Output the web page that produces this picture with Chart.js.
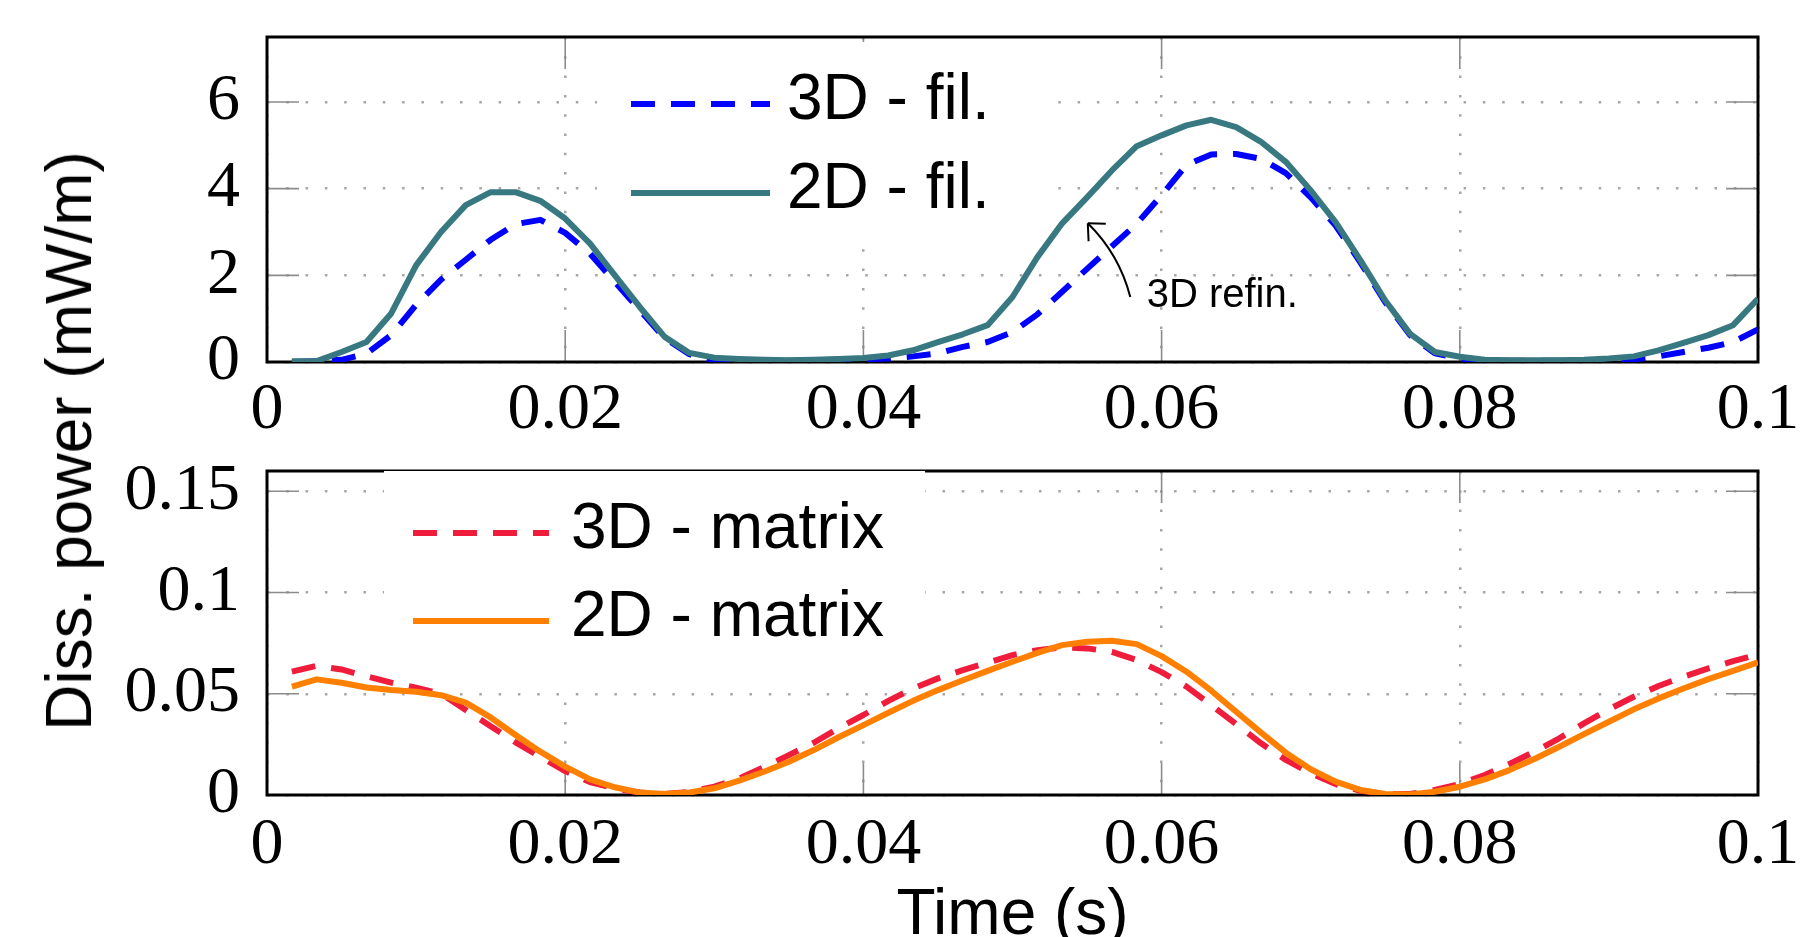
<!DOCTYPE html>
<html>
<head>
<meta charset="utf-8">
<title>Diss. power</title>
<script src="https://cdn.jsdelivr.net/npm/chart.js@4.4.1/dist/chart.umd.min.js"></script>
<style>
  html, body { margin: 0; padding: 0; background: #fff; }
  body { width: 1815px; height: 937px; overflow: hidden; position: relative; }
  canvas { position: absolute; left: 0; }
  #filChart { top: 0; }
  #matChart { top: 450px; }
  #yTitle {
    position: absolute; left: 69px; top: 441px;
    transform: translate(-50%, -50%) rotate(-90deg);
    font: 64px "Liberation Sans", Arial, sans-serif;
    white-space: nowrap; color: #000;
  }
</style>
</head>
<body>
<canvas id="filChart" width="1815" height="450"></canvas>
<canvas id="matChart" width="1815" height="520"></canvas>
<div id="yTitle">Diss. power (mW/m)</div>

<script>
// time samples (s)
var times = [
  0.00167, 0.00333, 0.005, 0.00667, 0.00833, 0.01, 0.01167, 0.01333, 0.015, 0.01667,
  0.01833, 0.02, 0.02167, 0.02333, 0.025, 0.02667, 0.02833, 0.03, 0.03167, 0.03333,
  0.035, 0.03667, 0.03833, 0.04, 0.04167, 0.04333, 0.045, 0.04667, 0.04833, 0.05,
  0.05167, 0.05333, 0.055, 0.05667, 0.05833, 0.06, 0.06167, 0.06333, 0.065, 0.06667,
  0.06833, 0.07, 0.07167, 0.07333, 0.075, 0.07667, 0.07833, 0.08, 0.08167, 0.08333,
  0.085, 0.08667, 0.08833, 0.09, 0.09167, 0.09333, 0.095, 0.09667, 0.09833, 0.1
];

// filaments (mW/m)
var fil3D = [
  0.0, 0.02, 0.05, 0.19, 0.62, 1.32, 1.90, 2.36, 2.82, 3.18,
  3.28, 2.98, 2.5, 1.85, 1.2, 0.55, 0.18, 0.04, 0.02, 0.02,
  0.03, 0.04, 0.05, 0.06, 0.08, 0.13, 0.2, 0.35, 0.46, 0.69,
  1.10, 1.62, 2.15, 2.67, 3.19, 3.85, 4.55, 4.79, 4.8, 4.69,
  4.36, 3.8, 3.15, 2.3, 1.38, 0.62, 0.2, 0.08, 0.03, 0.03,
  0.03, 0.03, 0.03, 0.04, 0.06, 0.13, 0.23, 0.33, 0.46, 0.75
];
var fil2D = [
  0.02, 0.02, 0.23, 0.46, 1.12, 2.23, 3.0, 3.62, 3.92, 3.92,
  3.72, 3.31, 2.73, 2.0, 1.27, 0.58, 0.21, 0.1, 0.07, 0.05,
  0.04, 0.05, 0.07, 0.09, 0.15, 0.27, 0.46, 0.64, 0.85, 1.5,
  2.42, 3.2, 3.8, 4.42, 4.98, 5.23, 5.46, 5.59, 5.42, 5.08,
  4.62, 3.96, 3.23, 2.35, 1.42, 0.65, 0.23, 0.12, 0.05, 0.04,
  0.04, 0.04, 0.05, 0.08, 0.13, 0.27, 0.44, 0.62, 0.85, 1.46
];

// matrix (mW/m)
var mat3D = [
  0.0609, 0.0638, 0.0620, 0.0586, 0.0555, 0.0530, 0.0500, 0.0420, 0.0340, 0.0260,
  0.0188, 0.0118, 0.0064, 0.0032, 0.0012, 0.0005, 0.0015, 0.0041, 0.0082, 0.0137,
  0.0197, 0.0258, 0.0329, 0.0395, 0.0465, 0.0526, 0.0576, 0.0617, 0.0653, 0.0691,
  0.0715, 0.0729, 0.0724, 0.0707, 0.0666, 0.0607, 0.0535, 0.0444, 0.0350, 0.0255,
  0.0173, 0.0107, 0.0054, 0.0021, 0.0005, 0.0005, 0.0025, 0.0054, 0.0099, 0.0153,
  0.0214, 0.0280, 0.0354, 0.0423, 0.0485, 0.0538, 0.0584, 0.0625, 0.0661, 0.0694
];
var mat2D = [
  0.0535, 0.0571, 0.0554, 0.0531, 0.0518, 0.0510, 0.0493, 0.0456, 0.0383, 0.0296,
  0.0214, 0.0140, 0.0077, 0.0038, 0.0012, 0.0005, 0.0012, 0.0033, 0.0071, 0.0115,
  0.0164, 0.0222, 0.0285, 0.0345, 0.0406, 0.0465, 0.0518, 0.0567, 0.0613, 0.0658,
  0.0702, 0.0740, 0.0757, 0.0762, 0.0745, 0.0686, 0.0609, 0.0515, 0.0411, 0.0308,
  0.0209, 0.0127, 0.0066, 0.0025, 0.0005, 0.0003, 0.0016, 0.0041, 0.0077, 0.0123,
  0.0178, 0.0238, 0.0301, 0.0362, 0.0423, 0.0477, 0.0526, 0.0572, 0.0613, 0.0655
];

var xTicks = [0, 0.02, 0.04, 0.06, 0.08, 0.1];
var xTickLabels = ['0', '0.02', '0.04', '0.06', '0.08', '0.1'];
var filTicks = [0, 2, 4, 6];
var filTickLabels = ['0', '2', '4', '6'];
var matTicks = [0, 0.05, 0.1, 0.15];
var matTickLabels = ['0', '0.05', '0.1', '0.15'];

var SERIF = '"Liberation Serif", "Times New Roman", serif';
var SANS = '"Liberation Sans", Arial, sans-serif';

function points(ys) {
  return times.map(function(t, i) { return { x: t, y: ys[i] }; });
}

// no extra room around the plot for overhanging labels
function noPadding(s) {
  s.paddingTop = 0; s.paddingBottom = 0; s.paddingLeft = 0; s.paddingRight = 0;
}

// pgfplots-like box: inner tick marks, frame, legend box, arrow note
var pgfBox = {
  id: 'pgfBox',
  beforeDatasetsDraw: function(chart, args, opts) {
    var ctx = chart.ctx, a = chart.chartArea;
    var xs = chart.scales.x, ys = chart.scales.y;
    ctx.save();
    ctx.strokeStyle = '#8c8c8c';
    ctx.lineWidth = 1.6;
    ctx.beginPath();
    xs.ticks.forEach(function(t) {
      var px = xs.getPixelForValue(t.value);
      if (px < a.left + 2 || px > a.right - 2) return;
      ctx.moveTo(px, a.bottom); ctx.lineTo(px, a.bottom - 32);
      ctx.moveTo(px, a.top); ctx.lineTo(px, a.top + 32);
    });
    ys.ticks.forEach(function(t) {
      var py = ys.getPixelForValue(t.value);
      if (py > a.bottom - 2 || py < a.top + 2) return;
      ctx.moveTo(a.left, py); ctx.lineTo(a.left + 32, py);
      ctx.moveTo(a.right, py); ctx.lineTo(a.right - 32, py);
    });
    ctx.stroke();

    ctx.strokeStyle = '#000';
    ctx.lineWidth = 3;
    ctx.strokeRect(a.left, a.top, a.right - a.left, a.bottom - a.top);

    var L = opts.legend;
    ctx.fillStyle = '#fff';
    ctx.fillRect(a.left + L.box[0], a.top + L.box[1], L.box[2], L.box[3]);
    chart.data.datasets.forEach(function(ds, i) {
      var y = a.top + L.rows[i];
      ctx.save();
      ctx.strokeStyle = ds.borderColor;
      ctx.lineWidth = ds.borderWidth;
      ctx.setLineDash(ds.borderDash || []);
      ctx.beginPath();
      ctx.moveTo(a.left + L.line[0], y);
      ctx.lineTo(a.left + L.line[1], y);
      ctx.stroke();
      ctx.restore();
      ctx.fillStyle = '#000';
      ctx.font = L.fontSize + 'px ' + SANS;
      ctx.textBaseline = 'middle';
      ctx.textAlign = 'left';
      ctx.fillText(ds.label, a.left + L.textX, y - 3);
    });
    ctx.restore();
  },
  afterDatasetsDraw: function(chart, args, opts) {
    var n = opts.note;
    if (!n) return;
    var ctx = chart.ctx, xs = chart.scales.x, ys = chart.scales.y;
    var p0 = [xs.getPixelForValue(n.tail[0]), ys.getPixelForValue(n.tail[1])];
    var c = [xs.getPixelForValue(n.ctrl[0]), ys.getPixelForValue(n.ctrl[1])];
    var p1 = [xs.getPixelForValue(n.tip[0]), ys.getPixelForValue(n.tip[1])];
    ctx.save();
    ctx.strokeStyle = '#000';
    ctx.lineWidth = 2;
    ctx.beginPath();
    ctx.moveTo(p0[0], p0[1]);
    ctx.quadraticCurveTo(c[0], c[1], p1[0], p1[1]);
    ctx.stroke();
    // barbs
    var dx = c[0] - p1[0], dy = c[1] - p1[1], d = Math.hypot(dx, dy);
    dx /= d; dy /= d;
    [-0.75, 0.75].forEach(function(ang) {
      var bx = dx * Math.cos(ang) - dy * Math.sin(ang);
      var by = dx * Math.sin(ang) + dy * Math.cos(ang);
      ctx.beginPath();
      ctx.moveTo(p1[0], p1[1]);
      ctx.lineTo(p1[0] + bx * 18, p1[1] + by * 18);
      ctx.stroke();
    });
    ctx.fillStyle = '#000';
    ctx.font = '40px ' + SANS;
    ctx.textBaseline = 'middle';
    ctx.textAlign = 'left';
    ctx.fillText(n.label, xs.getPixelForValue(n.at[0]), ys.getPixelForValue(n.at[1]));
    ctx.restore();
  }
};

function xScale(height, pad, title) {
  return {
    type: 'linear', min: 0, max: 0.1,
    afterBuildTicks: function(s) { s.ticks = xTicks.map(function(v) { return { value: v }; }); },
    afterFit: function(s) { s.height = height; noPadding(s); },
    grid: { color: '#a6a6a6', lineWidth: 2.5, drawTicks: false },
    border: { display: false, dash: [2.5, 16.8] },
    ticks: {
      padding: pad, color: '#000', maxRotation: 0, autoSkip: false,
      font: { family: SERIF, size: 66, lineHeight: 1 },
      callback: function(v, i) { return xTickLabels[i]; }
    },
    title: title || { display: false }
  };
}

function yScale(max, ticks, labels) {
  return {
    type: 'linear', min: 0, max: max,
    afterBuildTicks: function(s) { s.ticks = ticks.map(function(v) { return { value: v }; }); },
    afterFit: function(s) { s.width = 267; noPadding(s); },
    grid: { color: '#a6a6a6', lineWidth: 2.5, drawTicks: false },
    border: { display: false, dash: [2.5, 16.8] },
    ticks: {
      padding: 27, color: '#000', autoSkip: false,
      font: { family: SERIF, size: 66, lineHeight: 1 },
      callback: function(v, i) { return labels[i]; }
    }
  };
}

var common = {
  responsive: false,
  animation: false,
  devicePixelRatio: 1,
  elements: { point: { radius: 0 }, line: { tension: 0, borderJoinStyle: 'round' } }
};

document.addEventListener("DOMContentLoaded", function() {
  var ctx = document.getElementById('filChart').getContext('2d');
  new Chart(ctx, {
    type: 'line',
    data: {
      datasets: [{
        label: '3D - fil.',
        data: points(fil3D),
        borderColor: 'rgb(0, 0, 255)',
        borderWidth: 6,
        borderDash: [24, 16],
        order: 1
      }, {
        label: '2D - fil.',
        data: points(fil2D),
        borderColor: 'rgb(56, 120, 128)',
        borderWidth: 6,
        order: 0
      }]
    },
    options: Object.assign({}, common, {
      layout: { autoPadding: false, padding: { top: 37, right: 57, bottom: 0, left: 0 } },
      scales: {
        x: xScale(88, 16),
        y: yScale(7.5, filTicks, filTickLabels)
      },
      plugins: {
        legend: { display: false },
        tooltip: { enabled: false },
        pgfBox: {
          legend: { box: [330, 5, 445, 203], rows: [67, 156], line: [364, 503], textX: 520, fontSize: 64 },
          note: { tail: [0.0579, 1.5], ctrl: [0.05715, 2.49], tip: [0.05505, 3.2], at: [0.0590, 1.52], label: '3D refin.' }
        }
      }
    }),
    plugins: [pgfBox]
  });

  var ctx2 = document.getElementById('matChart').getContext('2d');
  new Chart(ctx2, {
    type: 'line',
    data: {
      datasets: [{
        label: '3D - matrix',
        data: points(mat3D),
        borderColor: 'rgb(240, 28, 60)',
        borderWidth: 6,
        borderDash: [24, 16],
        order: 1
      }, {
        label: '2D - matrix',
        data: points(mat2D),
        borderColor: 'rgb(255, 128, 0)',
        borderWidth: 6,
        order: 0
      }]
    },
    options: Object.assign({}, common, {
      layout: { autoPadding: false, padding: { top: 21, right: 57, bottom: 0, left: 0 } },
      scales: {
        x: xScale(175, 18, {
          display: true, text: 'Time (s)', color: '#000',
          font: { family: SANS, size: 64, lineHeight: 1 },
          padding: { top: 0, bottom: 22 }
        }),
        y: yScale(0.16, matTicks, matTickLabels)
      },
      plugins: {
        legend: { display: false },
        tooltip: { enabled: false },
        pgfBox: {
          legend: { box: [117, 0, 541, 222], rows: [62, 150], line: [146, 282], textX: 304, fontSize: 64 }
        }
      }
    }),
    plugins: [pgfBox]
  });
});
</script>
</body>
</html>
